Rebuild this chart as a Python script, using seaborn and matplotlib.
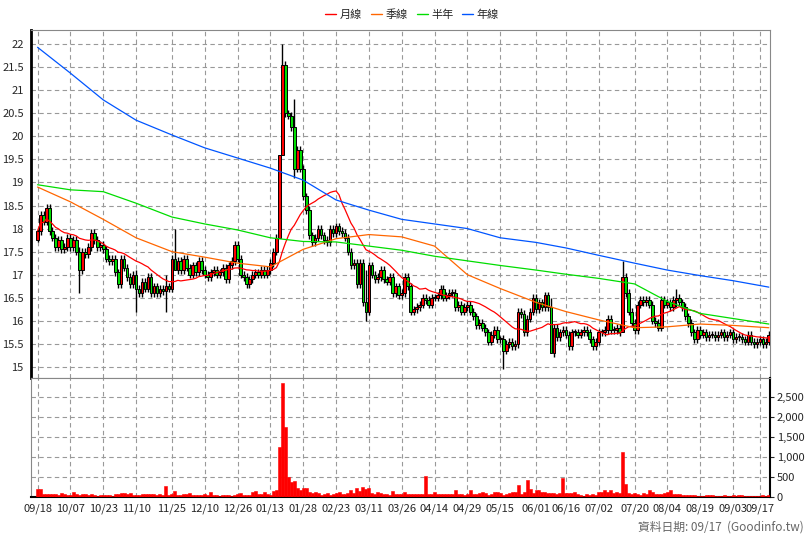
import numpy as np
import pandas as pd
import matplotlib
matplotlib.use("Agg")
import matplotlib.pyplot as plt
from matplotlib.lines import Line2D
from matplotlib.ticker import FuncFormatter
import seaborn as sns

# daily closes (opens taken as the previous close)
first_open = 17.75
closes = [
    17.95, 18.3, 18.15, 18.45, 17.95, 17.8, 17.6, 17.75, 17.55, 17.6, 17.8,
    17.6, 17.75, 17.5, 17.1, 17.5, 17.45, 17.6, 17.9, 17.75, 17.6, 17.65,
    17.55, 17.35, 17.3, 17.35, 17.05, 16.8, 17.35, 17.15, 16.95, 16.8, 17.0,
    16.7, 16.6, 16.85, 16.7, 16.95, 16.6, 16.75, 16.6, 16.7, 16.65, 16.75, 16.7,
    17.35, 17.1, 17.3, 17.1, 17.35, 17.15, 17.0, 17.2, 17.05, 17.3, 17.1, 17.0,
    16.95, 17.05, 17.1, 17.0, 17.05, 17.15, 16.9, 17.2, 17.3, 17.65, 17.35, 17.0,
    16.95, 16.8, 16.9, 17.0, 17.05, 17.0, 17.1, 17.0, 17.1, 17.25, 17.5, 17.8,
    19.6, 21.55, 20.5, 20.45, 20.2, 19.3, 19.7, 19.3, 18.7, 18.4, 17.85,
    17.7, 17.8, 18.0, 17.85, 17.75, 17.7, 18.0, 17.9, 18.05, 17.95, 17.9,
    17.8, 17.5, 17.2, 17.25, 16.8, 17.25, 16.4, 16.2, 17.2, 17.0, 16.9,
    16.95, 17.1, 16.9, 16.85, 16.95, 16.6, 16.75, 16.55, 16.6, 16.95, 16.75,
    16.2, 16.25, 16.3, 16.35, 16.5, 16.45, 16.35, 16.5, 16.5, 16.55, 16.7,
    16.5, 16.55, 16.6, 16.6, 16.3, 16.35, 16.2, 16.3, 16.35, 16.2, 16.1,
    15.9, 15.95, 15.85, 15.75, 15.55, 15.7, 15.8, 15.6, 15.6, 15.35, 15.5,
    15.55, 15.45, 15.5, 16.2, 16.15, 15.75, 16.05, 16.2, 16.5, 16.25, 16.4,
    16.3, 16.55, 16.3, 15.3, 15.85, 15.65, 15.75, 15.8, 15.7, 15.45, 15.75,
    15.75, 15.7, 15.75, 15.8, 15.75, 15.6, 15.45, 15.55, 15.75, 15.75, 15.8,
    16.05, 15.8, 15.8, 15.85, 15.75, 16.95, 16.6, 16.2, 15.95, 15.8, 16.35,
    16.45, 16.4, 16.45, 16.35, 16.0, 15.95, 15.85, 16.45, 16.35, 16.4, 16.3,
    16.45, 16.5, 16.4, 16.3, 16.1, 15.95, 15.75, 15.6, 15.8, 15.7, 15.75,
    15.65, 15.7, 15.7, 15.65, 15.7, 15.75, 15.65, 15.7, 15.75, 15.6, 15.65,
    15.65, 15.6, 15.55, 15.7, 15.55, 15.5, 15.55, 15.6, 15.5, 15.55, 15.7,
]
# notable wick extremes (day: (high, low))
wick_extremes = {0: (18.0, 17.7), 14: (17.6, 16.6), 33: (17.1, 16.2), 43: (17.0, 16.2),
                 46: (18.0, 17.1), 81: (19.6, 18.1), 82: (22.0, 19.8), 86: (20.8, 19.1),
                 110: (17.1, 16.0), 156: (15.7, 14.95), 172: (16.5, 15.3),
                 196: (17.3, 16.2), 214: (16.7, 16.3)}

volume = [
    200, 200, 70, 70, 60, 70, 60, 50, 90, 70, 40,
    40, 110, 60, 50, 60, 70, 50, 70, 40, 30, 40,
    40, 50, 50, 30, 70, 70, 90, 90, 60, 90, 40,
    40, 50, 70, 80, 60, 70, 70, 40, 60, 50, 260, 40,
    70, 140, 50, 40, 60, 60, 90, 40, 40, 50, 50, 60,
    40, 120, 50, 40, 30, 40, 40, 50, 30, 40, 60, 90,
    40, 40, 50, 110, 140, 60, 70, 120, 60, 40, 150, 160,
    1250, 2850, 1750, 500, 380, 400, 230, 170, 230, 230, 130,
    100, 110, 90, 50, 60, 90, 40, 60, 100, 110, 80,
    60, 90, 180, 100, 210, 150, 250, 200, 210, 100, 80,
    130, 90, 60, 80, 40, 140, 80, 70, 60, 130, 70,
    70, 80, 80, 70, 70, 530, 70, 70, 110, 60, 60,
    60, 60, 60, 60, 180, 60, 60, 50, 60, 180, 80,
    80, 90, 120, 100, 40, 80, 130, 120, 100, 40, 60,
    100, 110, 130, 300, 80, 130, 410, 190, 100, 180, 180,
    120, 120, 100, 100, 90, 60, 90, 460, 90, 90, 90,
    120, 60, 40, 30, 80, 40, 80, 40, 120, 110, 180,
    120, 180, 90, 130, 90, 1110, 330, 90, 70, 90, 70,
    50, 90, 70, 160, 120, 60, 60, 60, 90, 120, 170,
    60, 80, 60, 40, 40, 40, 40, 40, 30, 30, 30,
    40, 40, 40, 30, 30, 30, 40, 30, 30, 50, 30,
    40, 40, 30, 30, 30, 30, 30, 30, 40, 30, 40,
]

tick_days = [0, 11, 22, 33, 45, 56, 67, 78, 89, 100, 111, 122, 133, 144, 155, 167, 177,
             188, 200, 211, 222, 233, 242]
tick_labels = ["09/18", "10/07", "10/23", "11/10", "11/25", "12/10", "12/26", "01/13",
               "01/28", "02/23", "03/11", "03/26", "04/14", "04/29", "05/15", "06/01",
               "06/16", "07/02", "07/20", "08/04", "08/19", "09/03", "09/17"]

# longer moving averages at the tick days
ma_days = [0, 11, 22, 33, 45, 56, 67, 78, 89, 100, 111, 122, 133, 144, 155, 167, 177,
           188, 200, 211, 222, 233, 245]
ma_quarter = [18.9, 18.58, 18.2, 17.8, 17.5, 17.38, 17.25, 17.17, 17.55, 17.78, 17.87,
              17.82, 17.62, 17.0, 16.7, 16.4, 16.2, 16.02, 15.85, 15.87, 15.93, 15.9, 15.85]
ma_half = [18.95, 18.84, 18.8, 18.55, 18.25, 18.1, 17.97, 17.8, 17.72, 17.71, 17.62,
           17.53, 17.4, 17.3, 17.2, 17.1, 17.01, 16.92, 16.8, 16.42, 16.16, 16.05, 15.93]
ma_year = [21.93, 21.37, 20.79, 20.35, 20.03, 19.75, 19.53, 19.31, 19.05, 18.62, 18.4,
           18.2, 18.1, 18.0, 17.8, 17.7, 17.58, 17.42, 17.25, 17.1, 16.98, 16.87, 16.73]

UP, DOWN = "#ff0000", "#00dd00"

sns.set_style("white")
plt.rcParams["font.family"] = ["Noto Sans CJK TC", "DejaVu Sans"]

n = len(closes)
days = np.arange(n)
c = np.array(closes)
o = np.concatenate([[first_open], c[:-1]])
hi = np.maximum(o, c) + 0.08
lo = np.minimum(o, c) - 0.08
for d, (h, l) in wick_extremes.items():
    hi[d], lo[d] = h, l
month = pd.Series(c).rolling(20, min_periods=1).mean()

fig = plt.figure(figsize=(8.08, 5.4), dpi=100)
ax = fig.add_axes([0.038, 0.300, 0.915, 0.644])
axv = fig.add_axes([0.038, 0.080, 0.915, 0.220])

xlim = (-2.3, 245.4)
up = c >= o
colors = np.where(up, UP, DOWN)
ax.vlines(days, lo, hi, color="black", lw=1, zorder=3)
ax.bar(days, np.maximum(np.abs(c - o), 0.02), bottom=np.minimum(o, c), width=0.9,
       color=colors, edgecolor="black", linewidth=0.7, zorder=4)

sns.lineplot(x=days, y=month, ax=ax, color="#ff0000", lw=0.9, zorder=5)
sns.lineplot(x=ma_days, y=ma_quarter, ax=ax, color="#ff6600", lw=0.9, zorder=5)
sns.lineplot(x=ma_days, y=ma_half, ax=ax, color="#00dd00", lw=0.9, zorder=5)
sns.lineplot(x=ma_days, y=ma_year, ax=ax, color="#0055ff", lw=0.9, zorder=5)

ax.set_xlim(*xlim)
ax.set_ylim(14.76, 22.3)
ax.set_xlabel("")
ax.set_ylabel("")
yt = np.arange(15, 22.01, 0.5)
ax.set_yticks(yt)
ax.set_yticklabels([f"{v:g}" for v in yt], fontsize=8)
ax.set_xticks(tick_days)
ax.set_xticklabels([])
ax.grid(True, color="#999999", ls=(0, (4, 3)), lw=0.8)
ax.tick_params(axis="y", length=3, pad=2)

axv.bar(days, volume, width=1.0, color="#ff0000", edgecolor="#ff0000", linewidth=0.4, zorder=3)
axv.set_xlim(*xlim)
axv.set_ylim(0, 2975)
axv.yaxis.tick_right()
axv.set_yticks(range(0, 3000, 500))
axv.yaxis.set_major_formatter(FuncFormatter(lambda v, p: f"{int(v):,}"))
axv.tick_params(axis="y", labelsize=8, length=3, pad=2)
axv.set_xticks(tick_days)
axv.set_xticklabels(tick_labels, fontsize=8)
axv.tick_params(axis="x", length=3, pad=2)
axv.grid(True, color="#999999", ls=(0, (4, 3)), lw=0.8)

for a in (ax, axv):
    for s in a.spines.values():
        s.set_color("#888888")
        s.set_linewidth(0.8)
ax.spines["left"].set_color("black")
ax.spines["left"].set_linewidth(2)
axv.spines["bottom"].set_color("black")
axv.spines["bottom"].set_linewidth(1.5)
axv.spines["right"].set_color("black")
axv.spines["right"].set_linewidth(1.5)

handles = [Line2D([], [], color=col, lw=1) for col in ("#ff0000", "#ff6600", "#00dd00", "#0055ff")]
fig.legend(handles, ["月線", "季線", "半年", "年線"], loc="center", bbox_to_anchor=(0.51, 0.973),
           ncol=4, frameon=False, fontsize=8, handlelength=1.0, handletextpad=0.3, columnspacing=0.8)
fig.text(0.995, 0.012, "資料日期: 09/17  (Goodinfo.tw)", ha="right", va="bottom",
         fontsize=8.5, color="#666666")

fig.savefig("out.png", dpi=100, facecolor="white")
